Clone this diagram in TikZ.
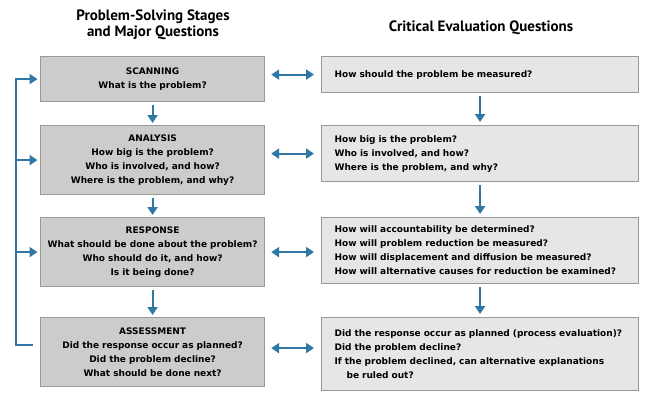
\documentclass[tikz,border=0pt]{standalone}
\usepackage{fontspec}
\setmainfont{DejaVu Sans}
\newfontfamily\titlefont{PT Sans}
\usetikzlibrary{arrows.meta,positioning}

\definecolor{stageGray}{HTML}{CCCCCC}
\definecolor{evalGray}{HTML}{E6E6E6}
\definecolor{edgeGray}{HTML}{999999}
\definecolor{arrowBlue}{RGB}{47,120,165}

\tikzset{
  stagebox/.style={draw=edgeGray, fill=stageGray, line width=1.2pt,
    anchor=north west, minimum width=224pt, text width=218pt, inner xsep=3pt,
    align=center, font=\fontsize{9}{14}\selectfont\bfseries},
  evalbox/.style={draw=edgeGray, fill=evalGray, line width=1.2pt,
    anchor=north west, minimum width=317pt, text width=291pt, inner xsep=13pt,
    align=left, font=\fontsize{9}{14}\selectfont\bfseries},
  heading/.style={align=center, font=\titlefont\fontsize{15}{15.5}\selectfont\bfseries},
  flow/.style={draw=arrowBlue, line width=2.2pt, -{Triangle[width=10pt,length=8pt]}},
  biflow/.style={draw=arrowBlue, line width=2.2pt,
    {Triangle[width=10pt,length=8pt]}-{Triangle[width=10pt,length=8pt]}}
}

\begin{document}
\begin{tikzpicture}[x=1pt,y=-1pt]
    \useasboundingbox (0,0) rectangle (645,400);

    % Column headings
    \node[heading] (hleft) at (153,25) {Problem-Solving Stages\\and Major Questions};
    \node[heading] (hright) at (481,27.5) {Critical Evaluation Questions};

    % Problem-solving stages
    \node[stagebox, minimum height=45pt] (sc) at (40,56)
        {SCANNING\\What is the problem?};
    \node[stagebox, minimum height=69pt] (an) at (40,125)
        {ANALYSIS\\How big is the problem?\\Who is involved, and how?\\Where is the problem, and why?};
    \node[stagebox, minimum height=69pt] (re) at (40,217)
        {RESPONSE\\What should be done about the problem?\\Who should do it, and how?\\Is it being done?};
    \node[stagebox, minimum height=69pt] (as) at (40,317)
        {ASSESSMENT\\Did the response occur as planned?\\Did the problem decline?\\What should be done next?};

    % Critical evaluation questions
    \node[evalbox, minimum height=36pt] (ev1) at (321,56)
        {How should the problem be measured?};
    \node[evalbox, minimum height=56pt] (ev2) at (321,125)
        {How big is the problem?\\Who is involved, and how?\\Where is the problem, and why?};
    \node[evalbox, minimum height=66pt] (ev3) at (321,217)
        {How will accountability be determined?\\How will problem reduction be measured?\\How will displacement and diffusion be measured?\\How will alternative causes for reduction be examined?};
    \node[evalbox, minimum height=73pt] (ev4) at (321,317)
        {Did the response occur as planned (process evaluation)?\\Did the problem decline?\\If the problem declined, can alternative explanations\\\hspace*{12pt}be ruled out?};

    % Downward flow
    \draw[flow, shorten <=3pt, shorten >=2pt] (sc.south) -- (an.north);
    \draw[flow, shorten <=3pt, shorten >=2pt] (an.south) -- (re.north);
    \draw[flow, shorten <=3pt, shorten >=2pt] (re.south) -- (as.north);
    \draw[flow, shorten <=3pt, shorten >=3pt] (ev1.south) -- (ev2.north);
    \draw[flow, shorten <=3pt, shorten >=3pt] (ev2.south) -- (ev3.north);
    \draw[flow, shorten <=3pt, shorten >=3pt] (ev3.south) -- (ev4.north);

    % Links between columns
    \draw[biflow, shorten <=6pt, shorten >=7pt] (sc.east |- ev1.west) -- (ev1.west);
    \draw[biflow, shorten <=6pt, shorten >=7pt] (an.east |- ev2.west) -- (ev2.west);
    \draw[biflow, shorten <=6pt, shorten >=7pt] (re.east) -- (re.east -| ev3.west);
    \coordinate (a4) at ([yshift=4pt]as.east);
    \draw[biflow, shorten <=6pt, shorten >=7pt] (a4) -- (a4 -| ev4.west);

    % Feedback loop
    \coordinate (back) at (16,345);
    \draw[flow, shorten >=2.5pt] ([xshift=-7pt]as.west |- back) -- (back) |- (sc.west);
    \draw[flow, shorten >=2.5pt] (back |- an.west) -- (an.west);
    \draw[flow, shorten >=2.5pt] (back |- re.west) -- (re.west);
\end{tikzpicture}
\end{document}
